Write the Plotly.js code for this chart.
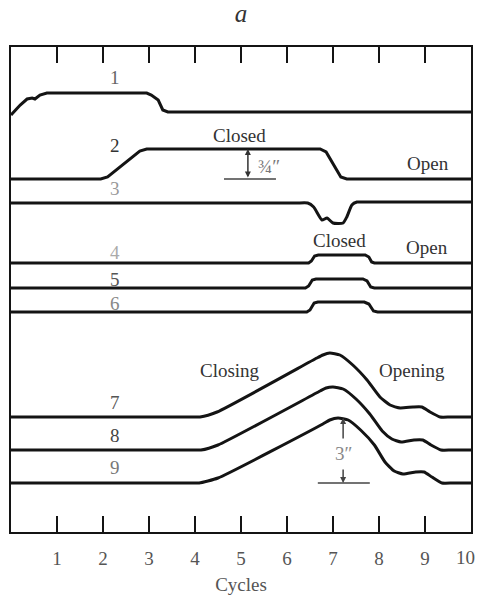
<!DOCTYPE html>
<html>
<head>
<meta charset="utf-8">
<script src="https://cdn.plot.ly/plotly-3.0.1.min.js"></script>
<style>html,body{margin:0;padding:0;background:#fff;}#chart{width:478px;height:595px;}</style>
</head>
<body>
<div id="chart"></div>
<script>
// Tick labels on the cycles axis (the "10" label sits at the frame edge, drawn separately)
const tickVals = [1, 2, 3, 4, 5, 6, 7, 8, 9, 10];
const tickText = ["1", "2", "3", "4", "5", "6", "7", "8", "9", ""];
const edgeTickText = "10";

// Traces (x in cycles, y in arbitrary vertical units)
const x1 = [0, 0.2, 0.35, 0.46, 0.52, 0.63, 0.78, 2.95, 3.05, 3.2, 3.3, 3.41, 3.6, 10];
const y1 = [417, 427, 433, 434, 433, 437, 439, 439, 437, 432, 422, 420, 420, 420];

const x2 = [0, 1.95, 2.1, 2.8, 2.95, 6.72, 6.85, 7.17, 7.3, 10];
const y2 = [353, 353, 355, 381, 383, 383, 380, 355, 353, 353];

const x3 = [0, 3.0, 6.2, 6.45, 6.58, 6.76, 6.87, 7.0, 7.22, 7.3, 7.41, 7.52, 7.65, 8.0, 10];
const y3 = [329, 329, 329, 329, 325, 312, 314, 309, 309, 315, 327, 330, 330, 330, 330];

const x4 = [0, 6.47, 6.53, 6.6, 6.68, 7.7, 7.78, 7.84, 7.9, 10];
const y4 = [269, 269, 271, 276, 277, 277, 275, 270, 269, 269];

const x5 = [0, 6.4, 6.47, 6.55, 6.63, 7.65, 7.74, 7.82, 7.9, 10];
const y5 = [244, 244, 246, 252, 253, 253, 251, 245, 244, 244];

const x6 = [0, 6.43, 6.5, 6.59, 6.67, 7.68, 7.78, 7.88, 7.97, 10];
const y6 = [220, 220, 222, 229, 230, 230, 228, 221, 220, 220];

const x7 = [0, 3.9, 4.11, 4.48, 6.65, 6.78, 6.93, 7.15, 7.43, 7.74, 8.02, 8.24, 8.46, 8.74, 8.93, 9.11, 9.33, 9.55, 10];
const y7 = [115, 115, 115, 120, 174, 177, 179, 177, 167, 152, 135, 127, 124, 125, 125, 120, 115, 115, 115];

const x8 = [0, 3.9, 4.13, 4.5, 6.72, 6.85, 7.0, 7.22, 7.5, 7.8, 8.07, 8.28, 8.48, 8.76, 8.95, 9.13, 9.35, 9.57, 10];
const y8 = [82, 82, 82, 87, 141, 144, 145, 143, 133, 118, 101, 93, 90, 92, 92, 87, 82, 82, 82];

const x9 = [0, 3.9, 4.09, 4.5, 6.78, 6.93, 7.11, 7.33, 7.6, 7.9, 8.13, 8.33, 8.52, 8.8, 8.98, 9.15, 9.37, 9.6, 10];
const y9 = [49, 49, 49, 54, 108, 112, 114, 112, 102, 87, 70, 61, 58, 60, 60, 55, 49, 49, 49];

// Trace labels
const labelText = ["1", "2", "3", "4", "5", "6", "7", "8", "9"];
const labelX = [2.26, 2.26, 2.26, 2.26, 2.26, 2.26, 2.26, 2.26, 2.26];
const labelY = [455, 387, 344, 280, 253, 229, 130, 97, 65];
const labelColor = ["#666", "#333", "#999", "#aaa", "#555", "#888", "#555", "#444", "#777"];

// State notes
const noteText = ["Closed", "Open", "Closed", "Open", "Closing", "Opening"];
const noteX = [4.96, 9.07, 7.15, 9.04, 4.76, 8.72];
const noteY = [397, 369, 292, 285, 162, 162];

const FONT = "'Liberation Serif', 'Times New Roman', serif";
const LC = "#141414";

const series = [[x1,y1,'linear'],[x2,y2,'linear'],[x3,y3,'spline'],[x4,y4,'linear'],[x5,y5,'linear'],[x6,y6,'linear'],[x7,y7,'spline'],[x8,y8,'spline'],[x9,y9,'spline']];
const data = series.map(s => ({
  x: s[0], y: s[1], type: 'scatter', mode: 'lines',
  line: {color: LC, width: 3, shape: s[2], smoothing: 0.5},
  hoverinfo: 'skip', showlegend: false
}));

const annotations = [];
for (let i = 0; i < labelText.length; i++) {
  annotations.push({x: labelX[i], y: labelY[i], xref: 'x', yref: 'y', text: labelText[i],
    showarrow: false, font: {family: FONT, size: 19, color: labelColor[i]}});
}
for (let i = 0; i < noteText.length; i++) {
  annotations.push({x: noteX[i], y: noteY[i], xref: 'x', yref: 'y', text: noteText[i],
    showarrow: false, font: {family: FONT, size: 19, color: '#333'}});
}
// edge tick label "10"
annotations.push({x: 1, y: 0, xref: 'paper', yref: 'paper', text: edgeTickText, showarrow: false,
  xanchor: 'right', yanchor: 'middle', xshift: 6, yshift: -25,
  font: {family: FONT, size: 19, color: '#555'}});
// 3/4" dimension
annotations.push({x: 5.15, y: 383, ax: 5.15, ay: 353, xref: 'x', yref: 'y', axref: 'x', ayref: 'y',
  text: '', showarrow: true, arrowhead: 2, arrowside: 'end+start', arrowsize: 0.8, arrowwidth: 1.5, arrowcolor: '#333'});
annotations.push({x: 5.6, y: 366, xref: 'x', yref: 'y', text: '¾″', showarrow: false,
  font: {family: FONT, size: 19, color: '#777'}});
// 3" dimension
annotations.push({x: 7.22, y: 114, ax: 7.22, ay: 92, xref: 'x', yref: 'y', axref: 'x', ayref: 'y',
  text: '', showarrow: true, arrowhead: 2, arrowsize: 0.8, arrowwidth: 1.5, arrowcolor: '#444'});
annotations.push({x: 7.22, y: 49, ax: 7.22, ay: 64, xref: 'x', yref: 'y', axref: 'x', ayref: 'y',
  text: '', showarrow: true, arrowhead: 2, arrowsize: 0.8, arrowwidth: 1.5, arrowcolor: '#444'});
annotations.push({x: 7.22, y: 79, xref: 'x', yref: 'y', text: '3″', showarrow: false,
  font: {family: FONT, size: 19, color: '#888'}});

const shapes = [
  {type: 'line', xref: 'x', yref: 'y', x0: 4.63, x1: 5.76, y0: 353, y1: 353, line: {color: '#444', width: 1.5}},
  {type: 'line', xref: 'x', yref: 'y', x0: 6.67, x1: 7.8, y0: 49, y1: 49, line: {color: '#444', width: 1.5}}
];

const layout = {
  width: 478, height: 595,
  margin: {l: 11, r: 7, t: 47, b: 63},
  paper_bgcolor: '#fff', plot_bgcolor: '#fff',
  title: {text: 'a', font: {family: FONT, size: 25, style: 'italic', color: '#333'},
    x: 0.5, xref: 'paper', xanchor: 'center', y: 0.978, yref: 'container', yanchor: 'middle'},
  xaxis: {range: [0, 10], tickmode: 'array', tickvals: tickVals, ticktext: tickText,
    ticks: 'inside', ticklen: 16, tickwidth: 2, tickcolor: LC,
    showline: true, linewidth: 2, linecolor: LC, mirror: 'ticks',
    showgrid: false, zeroline: false, fixedrange: true,
    ticklabelstandoff: 8,
    tickfont: {family: FONT, size: 19, color: '#555'},
    title: {text: 'Cycles', font: {family: FONT, size: 19, color: '#555'}, standoff: 12}},
  yaxis: {range: [0, 485], showticklabels: false, ticks: '', showgrid: false, zeroline: false,
    showline: true, linewidth: 2, linecolor: LC, mirror: true, fixedrange: true},
  annotations: annotations,
  shapes: shapes
};

Plotly.newPlot('chart', data, layout, {displayModeBar: false, staticPlot: true});
</script>
</body>
</html>
